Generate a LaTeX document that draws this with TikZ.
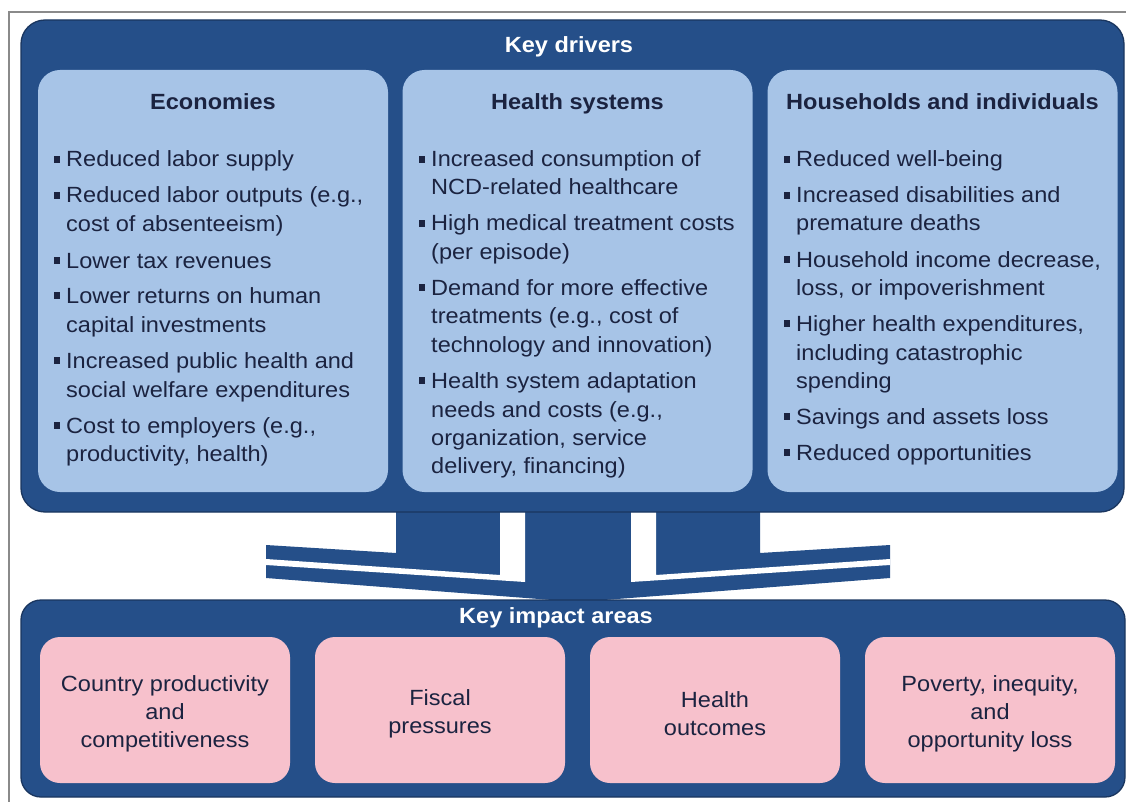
\documentclass[tikz,border=0pt]{standalone}
\usepackage{fontspec}
\setmainfont{Liberation Sans}[FakeStretch=1.07]
\definecolor{dkblue}{HTML}{254F89}
\definecolor{dkborder}{HTML}{1A365F}
\definecolor{ltblue}{HTML}{A7C4E7}
\definecolor{pinkbox}{HTML}{F7C1CC}
\definecolor{txt}{HTML}{1B2340}
\definecolor{framegray}{HTML}{8A8A8A}
\tikzset{
  dkbox/.style={draw=dkborder, line width=1.3pt, fill=dkblue, rounded corners=24pt, inner sep=0},
  lbox/.style={fill=ltblue, rounded corners=22pt, minimum width=350pt, minimum height=422pt, inner sep=0},
  pbox/.style={fill=pinkbox, rounded corners=20pt, minimum width=250pt, minimum height=146pt, inner sep=0},
  ptxt/.style={align=center, text=txt, inner sep=0, font=\fontsize{22}{28}\selectfont},
  ttl/.style={anchor=base, inner sep=0, text=txt, font=\bfseries\fontsize{22}{26}\selectfont},
  wttl/.style={anchor=base, inner sep=0, text=white, font=\bfseries\fontsize{22}{26}\selectfont},
  itm/.style={anchor=base west, inner sep=0, text=txt, font=\fontsize{22}{28}\selectfont},
  bul/.style={fill=txt, minimum size=6.3pt, inner sep=0},
}
\newcommand{\bitem}[5]{% name, bullet x, text x, baseline y, text
  \node[bul] (#1b) at (#2,#4-7.5) {};
  \node[itm] (#1) at (#3,#4) {#5};}
\newcommand{\citem}[4]{% name, text x, baseline y, text
  \node[itm] (#1) at (#2,#3) {#4};}
\begin{document}
\begin{tikzpicture}[x=1pt,y=-1pt]
\useasboundingbox (0,0) rectangle (1126,802);
% outer frame
\draw[framegray, line width=1.2pt] (9,802) -- (9,12) -- (1126,12);
% funnel
\fill[dkblue] (396,505) -- (396,553) -- (266,545) -- (266,578) -- (578,602)
  -- (890,578) -- (890,545) -- (760,553) -- (760,505) -- cycle;
\fill[white] (266,559) -- (500,575) -- (500,505) -- (525,505) -- (525,582) -- (266,565) -- cycle;
\fill[white] (890,559) -- (656,575) -- (656,505) -- (631,505) -- (631,582) -- (890,565) -- cycle;
% top box
\node[dkbox, minimum width=1103pt, minimum height=492pt] (top) at (572.5,266) {};
\node[wttl] (kd) at (569,53) {Key drivers};
\node[lbox] (eco) at (213,281) {};
\node[lbox] (hs) at (577.5,281) {};
\node[lbox] (hh) at (942.5,281) {};
\node[ttl] (ecot) at (213,110) {Economies};
\node[ttl] (hst) at (577.5,110) {Health systems};
\node[ttl] (hht) at (942.5,110) {Households and individuals};
% Economies items
\bitem{e1}{57}{66}{167}{Reduced labor supply}
\bitem{e2}{57}{66}{203}{Reduced labor outputs (e.g.,}
\citem{e2a}{66}{232}{cost of absenteeism)}
\bitem{e3}{57}{66}{268}{Lower tax revenues}
\bitem{e4}{57}{66}{303}{Lower returns on human}
\citem{e4a}{66}{332}{capital investments}
\bitem{e5}{57}{66}{368}{Increased public health and}
\citem{e5a}{66}{397}{social welfare expenditures}
\bitem{e6}{57}{66}{433}{Cost to employers (e.g.,}
\citem{e6a}{66}{461}{productivity, health)}
% Health systems items
\bitem{h1}{422}{431}{167}{Increased consumption of}
\citem{h1a}{431}{195}{NCD-related healthcare}
\bitem{h2}{422}{431}{231}{High medical treatment costs}
\citem{h2a}{431}{259}{(per episode)}
\bitem{h3}{422}{431}{295}{Demand for more effective}
\citem{h3a}{431}{323}{treatments (e.g., cost of}
\citem{h3b}{431}{352}{technology and innovation)}
\bitem{h4}{422}{431}{388}{Health system adaptation}
\citem{h4a}{431}{417}{needs and costs (e.g.,}
\citem{h4b}{431}{445}{organization, service}
\citem{h4c}{431}{473}{delivery, financing)}
% Households items
\bitem{u1}{787}{796}{167}{Reduced well-being}
\bitem{u2}{787}{796}{203}{Increased disabilities and}
\citem{u2a}{796}{231}{premature deaths}
\bitem{u3}{787}{796}{267}{Household income decrease,}
\citem{u3a}{796}{295}{loss, or impoverishment}
\bitem{u4}{787}{796}{331}{Higher health expenditures,}
\citem{u4a}{796}{360}{including catastrophic}
\citem{u4b}{796}{388}{spending}
\bitem{u5}{787}{796}{424}{Savings and assets loss}
\bitem{u6}{787}{796}{460}{Reduced opportunities}
% bottom box
\node[dkbox, rounded corners=20pt, minimum width=1104pt, minimum height=197pt] (bot) at (573,698.5) {};
\node[wttl] (kia) at (556,623) {Key impact areas};
\node[pbox] (p1) at (165,710) {};
\node[pbox] (p2) at (440,710) {};
\node[pbox] (p3) at (715,710) {};
\node[pbox] (p4) at (990,710) {};
\node[ptxt] (p1t) at (165,714) {Country productivity\\and\\competitiveness};
\node[ptxt] (p2t) at (440,714) {Fiscal\\pressures};
\node[ptxt] (p3t) at (715,714) {Health\\outcomes};
\node[ptxt] (p4t) at (990,714) {Poverty, inequity,\\and\\opportunity loss};
\end{tikzpicture}
\end{document}
